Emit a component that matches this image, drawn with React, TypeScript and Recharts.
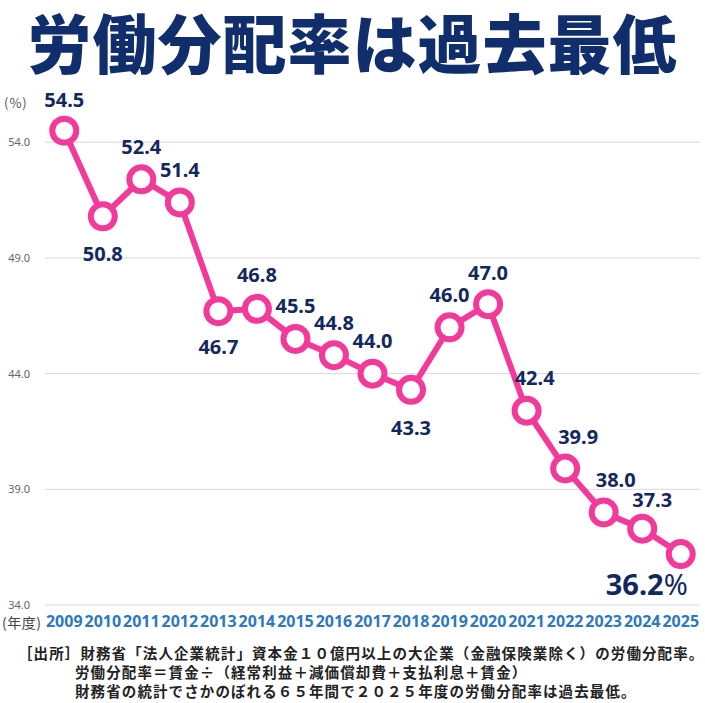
import React from 'react';
import { LineChart, Line, XAxis, YAxis, ReferenceLine, LabelList } from 'recharts';

const years = [2009, 2010, 2011, 2012, 2013, 2014, 2015, 2016, 2017, 2018, 2019, 2020, 2021, 2022, 2023, 2024, 2025];
const laborShare = [54.5, 50.8, 52.4, 51.4, 46.7, 46.8, 45.5, 44.8, 44.0, 43.3, 46.0, 47.0, 42.4, 39.9, 38.0, 37.3, 36.2];
const yTicks = [34, 39, 44, 49, 54];

const title = '労働分配率は過去最低';
const unitLabel = '(%)';
const yearUnit = '(年度)';
const notes = [
  '［出所］財務省「法人企業統計」資本金１０億円以上の大企業（金融保険業除く）の労働分配率。',
  '労働分配率＝賃金÷（経常利益＋減価償却費＋支払利息＋賃金）',
  '財務省の統計でさかのぼれる６５年間で２０２５年度の労働分配率は過去最低。',
];

// label offsets relative to each point (dx, dy)
const labelDx = [0, 0, 0, 0, 0, 0, 0, 0, 0, 0, 0, 0, 8, 13, 12, 10, -34];
const labelDy = [-31, 37, -33, -33, 35, -34, -33, -33, -33, 38, -33, -32, -33, -32, -33, -29, 29];

const data = years.map((y, i) => ({ year: y, value: laborShare[i] }));

const PINK = '#F23A9A';
const NAVY = '#13285C';

const renderLabel = (props: any) => {
  const { x, y, value, index } = props;
  const last = index === laborShare.length - 1;
  const tx = x + labelDx[index];
  const ty = y + labelDy[index];
  if (last) {
    return (
      <text x={tx} y={ty} textAnchor="middle" dominantBaseline="central" fill={NAVY}
        fontFamily="'Noto Sans', sans-serif" fontWeight={700} fontSize={29}>
        {Number(value).toFixed(1)}
        <tspan fontWeight={400}>%</tspan>
      </text>
    );
  }
  return (
    <text x={tx} y={ty} textAnchor="middle" dominantBaseline="central" fill={NAVY}
      fontFamily="'Noto Sans', sans-serif" fontWeight={700} fontSize={20}>
      {Number(value).toFixed(1)}
    </text>
  );
};

export default function App() {
  return (
    <div style={{ position: 'absolute', left: 0, top: 0, width: 705, height: 703, background: '#fff', overflow: 'hidden' }}>
      <div style={{
        position: 'absolute', left: 0, top: 4, width: 705, textAlign: 'center',
        fontFamily: "'Noto Sans CJK JP', sans-serif", fontWeight: 900, fontSize: 64,
        letterSpacing: 1, color: '#102E6B', lineHeight: '72px', whiteSpace: 'nowrap',
      }}>{title}</div>
      <div style={{
        position: 'absolute', left: 4, top: 94, fontFamily: "'Noto Sans CJK JP', sans-serif",
        fontSize: 13, color: '#555', lineHeight: '18px', letterSpacing: 1,
      }}>{unitLabel}</div>
      <div style={{
        position: 'absolute', left: 2, top: 612, fontFamily: "'Noto Sans CJK JP', sans-serif",
        fontSize: 14, color: '#444', lineHeight: '20px', letterSpacing: 0.5,
      }}>{yearUnit}</div>
      <LineChart width={705} height={703} data={data} margin={{ top: 96, right: 5, bottom: 68, left: 0 }}>
        {yTicks.map((t) => (
          <ReferenceLine key={t} y={t} stroke="#D9D9D9" strokeWidth={1} ifOverflow="visible" />
        ))}
        <XAxis dataKey="year" type="number" domain={[2008.5, 2025.5]} ticks={years} interval={0}
          axisLine={false} tickLine={false} height={30} tickMargin={5}
          tick={{ fill: '#2E78BE', fontSize: 16, fontWeight: 700, fontFamily: "'Noto Sans', sans-serif" }} />
        <YAxis domain={[34, 56]} ticks={yTicks} width={45} axisLine={false} tickLine={false} tickMargin={9}
          tickFormatter={(v: number) => v.toFixed(1)}
          tick={{ fill: '#666', fontSize: 11, fontFamily: "'Noto Sans', sans-serif" }} />
        <Line type="linear" dataKey="value" stroke={PINK} strokeWidth={6} isAnimationActive={false}
          dot={{ r: 12, fill: '#fff', stroke: PINK, strokeWidth: 6 }} activeDot={false}>
          <LabelList dataKey="value" content={renderLabel} />
        </Line>
      </LineChart>
      <div style={{
        position: 'absolute', left: 18, top: 643, fontFamily: "'Noto Sans CJK JP', sans-serif",
        fontWeight: 700, fontSize: 14.5, letterSpacing: 1.1, color: '#222', lineHeight: '19px', whiteSpace: 'nowrap',
      }}>
        <div>{notes[0]}</div>
        <div style={{ paddingLeft: 57 }}>{notes[1]}</div>
        <div style={{ paddingLeft: 57 }}>{notes[2]}</div>
      </div>
    </div>
  );
}
